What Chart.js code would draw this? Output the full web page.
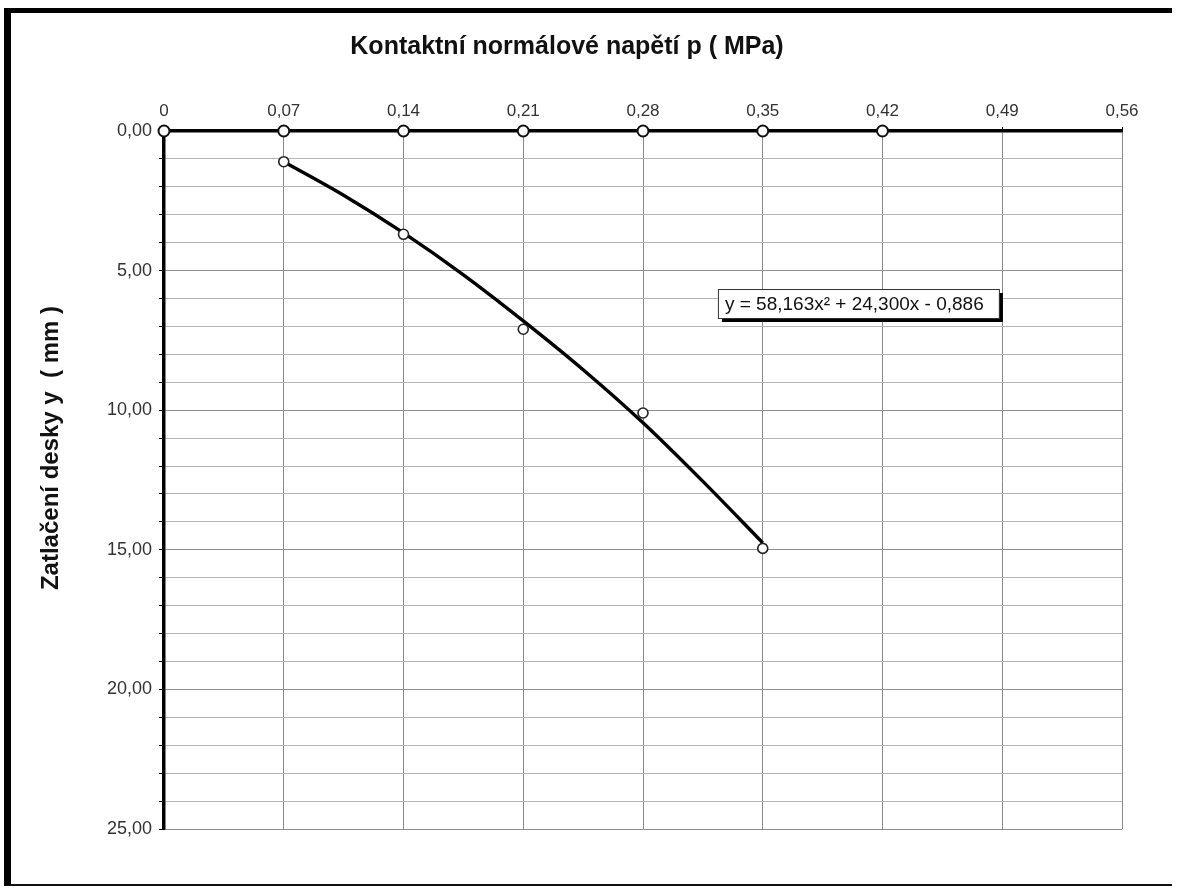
<!DOCTYPE html>
<html lang="cs">
<head>
<meta charset="utf-8">
<title>Zatlačení desky</title>
<script src="https://cdn.jsdelivr.net/npm/chart.js@4/dist/chart.umd.min.js"></script>
<style>
  html, body { margin: 0; padding: 0; background: #fff; }
  #wrap { position: relative; width: 1177px; height: 893px; overflow: hidden; }
  #frame {
    position: absolute; left: 4px; top: 8px; width: 1168px; height: 878px;
    border-left: 7px solid #000; border-top: 5px solid #000; border-bottom: 2px solid #111;
    box-sizing: border-box; pointer-events: none;
  }
  canvas { position: absolute; left: 0; top: 0; }
</style>
</head>
<body>
<div id="wrap">
  <canvas id="chart" width="1177" height="893"></canvas>
  <div id="frame"></div>
</div>
<script>
// measured points: contact pressure p (MPa) vs plate settlement y (mm)
const P_VALUES = [0.07, 0.14, 0.21, 0.28, 0.35];
const Y_VALUES = [1.1, 3.7, 7.1, 10.1, 14.95];

// polynomial trendline
const TREND_P = [0.07, 0.105, 0.14, 0.175, 0.21, 0.245, 0.28, 0.315, 0.35];
const TREND_Y = [1.1, 2.3, 3.65, 5.15, 6.8, 8.55, 10.45, 12.55, 14.75];

// circle markers sitting on the top axis line
const AXIS_MARKS = [0, 0.07, 0.14, 0.21, 0.28, 0.35, 0.42];

const X_TICKS = [0, 0.07, 0.14, 0.21, 0.28, 0.35, 0.42, 0.49, 0.56];
const Y_MIN = 0, Y_MAX = 25, Y_STEP = 1, Y_LABEL_STEP = 5;

const X_TITLE = 'Kontaktní normálové napětí p ( MPa)';
const Y_TITLE = 'Zatlačení desky y  ( mm )';
const EQUATION = 'y = 58,163x² + 24,300x - 0,886';

const FONT = "'Liberation Sans', Arial, sans-serif";

const fmtComma = (v, d) => v.toFixed(d).replace('.', ',');

const titlesPlugin = {
  id: 'titles',
  afterDraw(chart) {
    const ctx = chart.ctx;
    ctx.save();
    ctx.fillStyle = '#111';
    ctx.textAlign = 'center';
    ctx.textBaseline = 'middle';
    ctx.font = `bold 25px ${FONT}`;
    ctx.fillText(X_TITLE, 567, 47);
    ctx.font = `bold 24px ${FONT}`;
    ctx.translate(51, 448);
    ctx.rotate(-Math.PI / 2);
    ctx.fillText(Y_TITLE, 0, 0);
    ctx.restore();
  }
};

const equationPlugin = {
  id: 'equation',
  afterDatasetsDraw(chart) {
    const { ctx, scales } = chart;
    const left = scales.x.getPixelForValue(0.3238);
    const top = scales.y.getPixelForValue(5.66);
    const w = 281, h = 29;
    ctx.save();
    ctx.fillStyle = '#000';
    ctx.fillRect(left + 4, top + 4, w, h);
    ctx.fillStyle = '#fff';
    ctx.fillRect(left, top, w, h);
    ctx.strokeStyle = '#333';
    ctx.lineWidth = 1;
    ctx.strokeRect(left + 0.5, top + 0.5, w, h);
    ctx.fillStyle = '#111';
    ctx.font = `19px ${FONT}`;
    ctx.textBaseline = 'middle';
    ctx.fillText(EQUATION, left + 7, top + h / 2 + 1);
    ctx.restore();
  }
};

const ctx = document.getElementById('chart').getContext('2d');
new Chart(ctx, {
  type: 'scatter',
  data: {
    datasets: [
      {
        label: 'trend',
        data: TREND_P.map((p, i) => ({ x: p, y: TREND_Y[i] })),
        showLine: true,
        borderColor: '#000',
        borderWidth: 3.4,
        pointRadius: 0,
        cubicInterpolationMode: 'monotone',
        order: 2,
      },
      {
        label: 'měření',
        data: P_VALUES.map((p, i) => ({ x: p, y: Y_VALUES[i] })),
        showLine: false,
        pointRadius: 5,
        pointBackgroundColor: '#fff',
        pointBorderColor: '#222',
        pointBorderWidth: 1.6,
        order: 1,
      },
      {
        label: 'osa',
        data: AXIS_MARKS.map(p => ({ x: p, y: 0 })),
        showLine: false,
        pointRadius: 5.5,
        pointBackgroundColor: '#fff',
        pointBorderColor: '#111',
        pointBorderWidth: 2,
        clip: false,
        order: 0,
      }
    ]
  },
  options: {
    responsive: false,
    animation: false,
    layout: { padding: { left: 0, top: 0, right: 55, bottom: 64 } },
    plugins: {
      legend: { display: false },
      tooltip: { enabled: false },
    },
    scales: {
      x: {
        type: 'linear',
        position: 'top',
        min: 0,
        max: 0.56,
        afterBuildTicks: (scale) => { scale.ticks = X_TICKS.map(v => ({ value: v })); },
        afterFit: (scale) => { scale.height = 131; },
        ticks: {
          color: '#333',
          font: { family: FONT, size: 17 },
          padding: 5,
          maxRotation: 0,
          callback: (v) => v === 0 ? '0' : fmtComma(v, 2),
        },
        grid: {
          color: (c) => c.tick && c.tick.value === 0 ? 'rgba(0,0,0,0)' : '#8a8a8a',
          lineWidth: 1,
          tickColor: '#000',
          tickLength: 4,
        },
        border: { color: '#000', width: 3.5 },
      },
      y: {
        type: 'linear',
        position: 'left',
        reverse: true,
        min: Y_MIN,
        max: Y_MAX,
        afterFit: (scale) => { scale.width = 164; },
        ticks: {
          stepSize: Y_STEP,
          autoSkip: false,
          color: '#333',
          font: { family: FONT, size: 18 },
          padding: 7,
          callback: (v) => v % Y_LABEL_STEP === 0 ? fmtComma(v, 2) : '',
        },
        grid: {
          color: (c) => {
            if (!c.tick || c.tick.value === 0) return 'rgba(0,0,0,0)';
            return c.tick.value % Y_LABEL_STEP === 0 ? '#8f8f8f' : '#b5b5b5';
          },
          lineWidth: 1,
          tickColor: '#000',
          tickLength: 5,
        },
        border: { color: '#000', width: 3.5 },
      }
    }
  },
  plugins: [titlesPlugin, equationPlugin]
});
</script>
</body>
</html>
